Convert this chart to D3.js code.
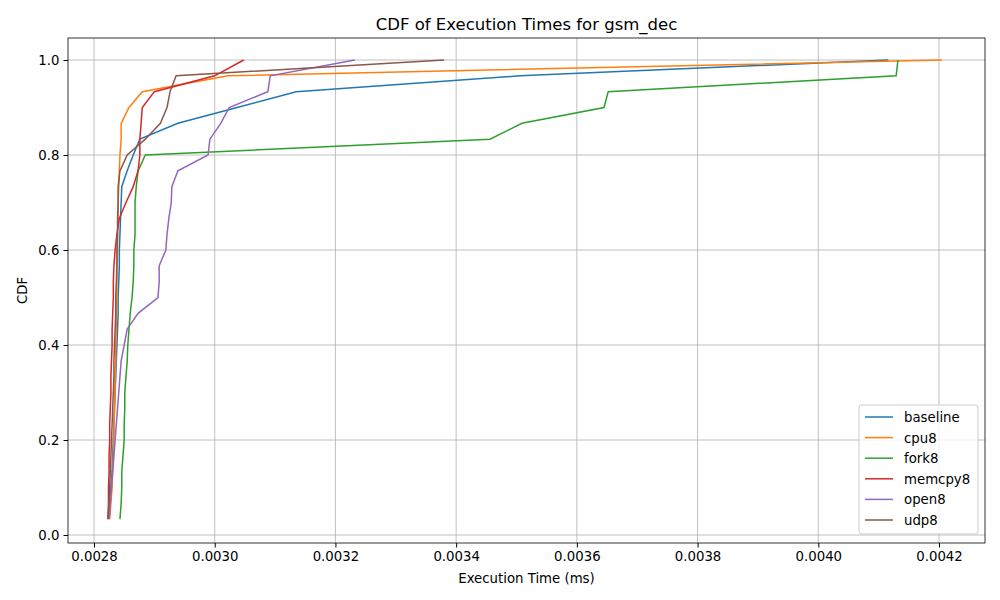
<!DOCTYPE html>
<html><head><meta charset="utf-8">
<script src="https://cdn.jsdelivr.net/npm/d3@7"></script>
<style>body{margin:0;background:#fff}text{font-family:"DejaVu Sans",sans-serif}</style>
</head><body><svg id="c" width="1000" height="600"></svg>
<script>
var names = ["baseline", "cpu8", "fork8", "memcpy8", "open8", "udp8"];
var colors = ["#1f77b4", "#ff7f0e", "#2ca02c", "#d62728", "#9467bd", "#8c564b"];
var baseline = [0.002825,0.002827,0.002828,0.002830,0.002831,0.002832,0.002833,0.002834,0.002835,0.002836,0.002837,0.002838,0.002839,0.002840,0.002840,0.002841,0.002842,0.002842,0.002843,0.002844,0.002845,0.002846,0.002855,0.002865,0.002876,0.002939,0.003037,0.003135,0.003506,0.004116];
var cpu8 = [0.002826,0.002828,0.002830,0.002831,0.002832,0.002833,0.002833,0.002834,0.002835,0.002835,0.002836,0.002836,0.002837,0.002837,0.002838,0.002838,0.002838,0.002839,0.002839,0.002840,0.002840,0.002841,0.002842,0.002843,0.002845,0.002845,0.002858,0.002880,0.003022,0.004205];
var fork8 = [0.002843,0.002845,0.002846,0.002846,0.002848,0.002850,0.002850,0.002851,0.002851,0.002853,0.002855,0.002856,0.002858,0.002860,0.002863,0.002865,0.002866,0.002866,0.002868,0.002868,0.002868,0.002870,0.002873,0.002885,0.003456,0.003509,0.003645,0.003652,0.004129,0.004132];
var memcpy8 = [0.002823,0.002824,0.002824,0.002825,0.002825,0.002826,0.002826,0.002827,0.002828,0.002828,0.002829,0.002830,0.002830,0.002831,0.002832,0.002832,0.002833,0.002835,0.002838,0.002842,0.002853,0.002865,0.002873,0.002876,0.002876,0.002878,0.002880,0.002900,0.003000,0.003048];
var open8 = [0.002825,0.002827,0.002829,0.002831,0.002833,0.002835,0.002837,0.002839,0.002841,0.002843,0.002845,0.002850,0.002855,0.002873,0.002906,0.002908,0.002908,0.002919,0.002921,0.002924,0.002928,0.002929,0.002939,0.002989,0.002992,0.003010,0.003024,0.003088,0.003092,0.003232];
var udp8 = [0.002823,0.002825,0.002826,0.002827,0.002828,0.002829,0.002830,0.002831,0.002832,0.002833,0.002833,0.002834,0.002835,0.002836,0.002836,0.002837,0.002838,0.002838,0.002839,0.002839,0.002840,0.002840,0.002843,0.002855,0.002885,0.002910,0.002921,0.002926,0.002936,0.003380];
var series = [baseline, cpu8, fork8, memcpy8, open8, udp8];
var xTicks = [0.0028, 0.0030, 0.0032, 0.0034, 0.0036, 0.0038, 0.0040, 0.0042];
var yTicks = [0, 0.2, 0.4, 0.6, 0.8, 1.0];

var svg = d3.select("#c");
var L = 68, R = 985, T = 38, B = 543;
var x = d3.scaleLinear().domain([0.0028, 0.0042]).range([94, 939]);
var y = d3.scaleLinear().domain([0, 1]).range([535, 60]);

// grid
svg.append("g").selectAll("line").data(xTicks).enter().append("line")
    .attr("x1", d => x(d)).attr("x2", d => x(d)).attr("y1", T).attr("y2", B)
    .attr("stroke", "#b0b0b0").attr("stroke-width", 0.8);
svg.append("g").selectAll("line").data(yTicks).enter().append("line")
    .attr("y1", d => y(d)).attr("y2", d => y(d)).attr("x1", L).attr("x2", R)
    .attr("stroke", "#b0b0b0").attr("stroke-width", 0.8);

var line = d3.line().x(d => x(d[0])).y(d => y(d[1]));
series.forEach(function(s, k) {
    var pts = s.map((v, i) => [v, (i + 1) / s.length]);
    svg.append("path").attr("d", line(pts)).attr("fill", "none")
        .attr("stroke", colors[k]).attr("stroke-width", 1.5);
});

svg.append("rect").attr("x", L).attr("y", T).attr("width", R - L).attr("height", B - T)
    .attr("fill", "none").attr("stroke", "#000").attr("stroke-width", 0.8);

var xa = svg.append("g").attr("transform", "translate(0," + B + ")")
    .call(d3.axisBottom(x).tickValues(xTicks).tickFormat(d3.format(".4f")).tickSizeOuter(0).tickSize(4.5).tickPadding(4));
var ya = svg.append("g").attr("transform", "translate(" + L + ",0)")
    .call(d3.axisLeft(y).tickValues(yTicks).tickFormat(d3.format(".1f")).tickSizeOuter(0).tickSize(4.5).tickPadding(4));
[xa, ya].forEach(function(a) {
    a.select(".domain").remove();
    a.selectAll("text").attr("font-size", 13.3).attr("fill", "#000").style("font-family", "DejaVu Sans");
});

svg.append("text").attr("x", (L + R) / 2).attr("y", 30).attr("text-anchor", "middle")
    .attr("font-size", 16.5).text("CDF of Execution Times for gsm_dec");
svg.append("text").attr("x", (L + R) / 2).attr("y", 583).attr("text-anchor", "middle")
    .attr("font-size", 13.3).text("Execution Time (ms)");
svg.append("text").attr("transform", "translate(27," + ((T + B) / 2) + ") rotate(-90)")
    .attr("text-anchor", "middle").attr("font-size", 13.3).text("CDF");

var lg = svg.append("g").attr("transform", "translate(859,405)");
lg.append("rect").attr("width", 119).attr("height", 129).attr("rx", 3)
    .attr("fill", "#fff").attr("fill-opacity", 0.8).attr("stroke", "#ccc");
names.forEach(function(n, i) {
    var yy = 12 + i * 20.6;
    lg.append("line").attr("x1", 6).attr("x2", 34).attr("y1", yy).attr("y2", yy)
        .attr("stroke", colors[i]).attr("stroke-width", 1.5);
    lg.append("text").attr("x", 45).attr("y", yy + 5).attr("font-size", 13.3).text(n);
});
</script></body></html>
